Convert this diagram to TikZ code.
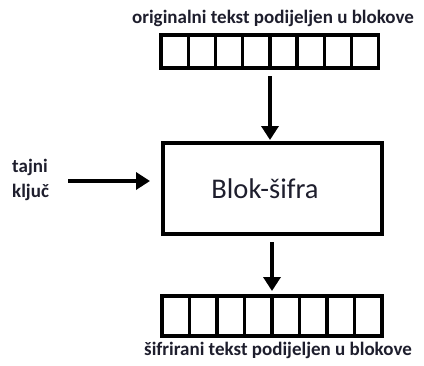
\documentclass[tikz,border=0pt]{standalone}
\usepackage{fontspec}
\setmainfont{Carlito}
\usetikzlibrary{arrows.meta}
\definecolor{txt}{RGB}{30,30,45}
\begin{document}
\begin{tikzpicture}[x=1pt,y=-1pt,
  cell/.style={draw, line width=3.4pt, minimum width=27.2pt, minimum height=33pt, inner sep=0pt, outer sep=0pt},
  flow/.style={line width=3.4pt, -{Triangle[length=14pt,width=17pt]}},
  lbl/.style={text=txt, font=\bfseries\fontsize{19}{22}\selectfont, inner sep=0pt}]
\useasboundingbox (0,0) rectangle (424,365);
% top bar
\foreach \i in {0,...,7} {
  \node[cell, anchor=north west] (t\i) at (161+27.2*\i,35) {};
}
\node[lbl] (toptxt) at (273,18) {originalni tekst podijeljen u blokove};
% main box
\node[draw, line width=3.4pt, minimum width=219pt, minimum height=91pt, inner sep=0pt, outer sep=0pt] (box) at (272.5,188.5) {};
\node[text=txt, font=\fontsize{28.5}{32}\selectfont, inner sep=0pt] (boxtxt) at (265,189) {Blok-šifra};
% key
\node[lbl, align=left, anchor=west, font=\bfseries\fontsize{19}{25}\selectfont] (key) at (12,180) {tajni\\ključ};
\coordinate (kstart) at (68,181);
\coordinate (kend) at (150,181);
\draw[flow] (kstart) -- (kend);
% arrows
\coordinate (a1s) at (270,76);
\coordinate (a1e) at (270,140);
\draw[flow] (a1s) -- (a1e);
% bottom bar
\foreach \i in {0,...,7} {
  \node[cell, anchor=north west, minimum width=27.5pt, minimum height=40pt] (b\i) at (162+27.5*\i,296) {};
}
\coordinate (a2s) at (272,242);
\coordinate (a2e) at (272,291);
\draw[flow] (a2s) -- (a2e);
\node[lbl] (bottxt) at (278,350) {šifrirani tekst podijeljen u blokove};
\end{tikzpicture}
\end{document}
